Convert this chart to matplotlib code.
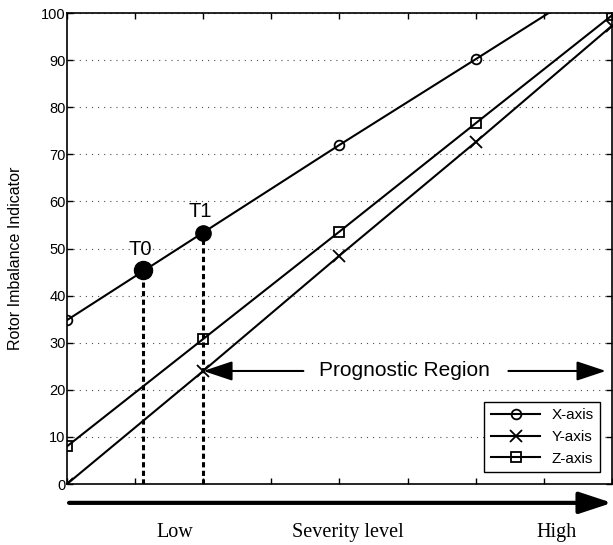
import matplotlib
matplotlib.use('Agg')
import matplotlib.pyplot as plt

# Indicator values per axis at each severity step
severity = [0, 2, 4, 6, 8]
x_axis = [34.8, 53.4, 72.0, 90.2, 108.5]
y_axis = [0.0, 24.0, 48.5, 72.6, 97.3]
z_axis = [8.0, 30.8, 53.6, 76.6, 99.5]

# Detection instants marked on the X-axis curve
t_labels = ['T0', 'T1']
t_severity = [1.12, 2.0]
t_values = [45.4, 53.4]
t_sizes = [13, 11]

yticks = list(range(0, 101, 10))
scale_labels = ['Low', 'Severity level', 'High']
scale_pos = [1.59, 4.13, 7.18]

sans = 'Liberation Sans'
serif = 'Liberation Serif'

fig = plt.figure(figsize=(6.13, 5.45), dpi=100)
ax = fig.add_axes([0.1093, 0.1119, 0.889, 0.8642])

ax.plot(severity, x_axis, color='k', lw=1.5, marker='o', ms=7, mfc='none', mew=1.3, label='X-axis')
ax.plot(severity, y_axis, color='k', lw=1.5, marker='x', ms=8, mew=1.3, label='Y-axis')
ax.plot(severity, z_axis, color='k', lw=1.5, marker='s', ms=7, mfc='none', mew=1.3, label='Z-axis')

# dashed drop lines and filled markers for T0 / T1
for lab, t, v, s in zip(t_labels, t_severity, t_values, t_sizes):
    ax.plot([t, t], [0, v], color='k', lw=2.2, ls=(0, (1.7, 1.1)), zorder=3)
    ax.plot(t, v, 'o', color='k', ms=s, zorder=4)
    ax.annotate(lab, (t, v), xytext=(-2, 15), textcoords='offset points',
                ha='center', va='center', fontsize=14.5, family=sans)

ax.set_xlim(0, 8)
ax.set_ylim(0, 100)
ax.set_xticks(severity + [1, 3, 5, 7])
ax.set_xticklabels([])
ax.set_yticks(yticks)
ax.set_yticklabels([str(v) for v in yticks], family=sans, fontsize=10.5)
ax.tick_params(direction='in', top=True, right=True, length=4, width=1, pad=1)
for sp in ax.spines.values():
    sp.set_linewidth(1.2)
ax.yaxis.grid(True, ls=(0, (1, 4.5)), color='0.3', lw=0.8)
ax.set_axisbelow(True)

ax.set_ylabel('Rotor Imbalance Indicator', family=sans, fontsize=11.5)
ax.yaxis.set_label_coords(-0.081, 0.48)

# prognostic region arrows, starting at the Y-axis value at T1
py = y_axis[1]
arr = dict(arrowstyle='-|>,head_length=0.9,head_width=0.3', mutation_scale=20,
           lw=1.5, color='k', shrinkA=0, shrinkB=0)
ax.annotate('', xy=(severity[1], py), xytext=(3.47, py), arrowprops=arr)
ax.annotate('', xy=(7.91, py), xytext=(6.48, py), arrowprops=arr)
ax.text(4.96, py, 'Prognostic Region', ha='center', va='center', fontsize=15, family=sans)

leg = ax.legend(loc='lower right', prop={'family': sans, 'size': 11}, fancybox=False,
                edgecolor='k', framealpha=1, handlelength=3.27, handletextpad=0.72,
                labelspacing=0.5, borderpad=0.42, borderaxespad=0.78)
leg.get_frame().set_linewidth(1.0)

# severity arrow under the axis
ax.annotate('', xy=(8, -0.04), xytext=(0.03, -0.04),
            xycoords=('data', 'axes fraction'), textcoords=('data', 'axes fraction'),
            annotation_clip=False,
            arrowprops=dict(arrowstyle='-|>,head_length=1.0,head_width=0.33',
                            mutation_scale=20, lw=3, color='k', shrinkA=0, shrinkB=0))
for lab, xp in zip(scale_labels, scale_pos):
    ax.text(xp, -0.104, lab, transform=ax.get_xaxis_transform(), ha='center', va='center',
            fontsize=14.5, family=serif)

fig.savefig('out.png', dpi=100)
